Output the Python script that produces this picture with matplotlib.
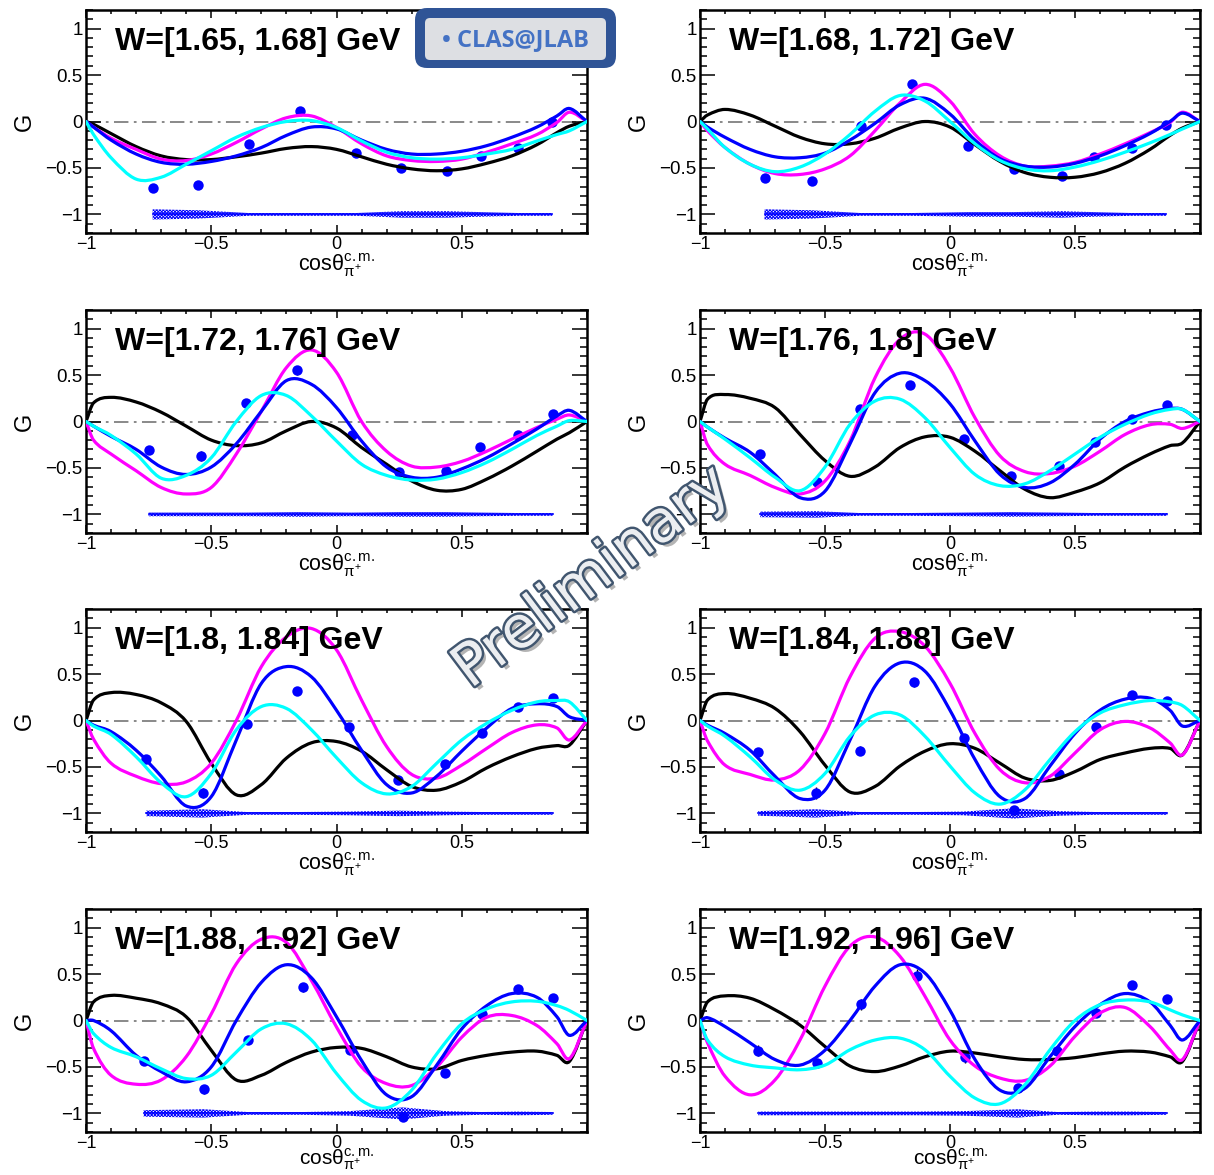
import matplotlib
matplotlib.use("Agg")
import matplotlib.pyplot as plt
import numpy as np
from matplotlib.path import Path
from matplotlib.patches import PathPatch, FancyBboxPatch
from matplotlib.ticker import MultipleLocator, FixedLocator, FixedFormatter
import matplotlib.patheffects as pe

plt.rcParams["font.family"] = ["Liberation Sans", "DejaVu Sans"]
plt.rcParams["mathtext.fontset"] = "custom"
plt.rcParams["mathtext.rm"] = "Liberation Sans"
plt.rcParams["mathtext.it"] = "Liberation Sans:italic"
plt.rcParams["mathtext.bf"] = "Liberation Sans:bold"
plt.rcParams["hatch.linewidth"] = 0.7
plt.rcParams["axes.unicode_minus"] = True

# ---------------------------------------------------------------- data
W_EDGES = [1.65, 1.68, 1.72, 1.76, 1.80, 1.84, 1.88, 1.92, 1.96]

DATA_COS = [
    [-0.734, -0.551, -0.351, -0.147, 0.078, 0.259, 0.442, 0.575, 0.726, 0.861],
    [-0.742, -0.552, -0.358, -0.152, 0.072, 0.255, 0.446, 0.576, 0.726, 0.865],
    [-0.750, -0.542, -0.363, -0.156, 0.061, 0.250, 0.436, 0.574, 0.723, 0.863],
    [-0.759, -0.534, -0.362, -0.161, 0.054, 0.244, 0.434, 0.579, 0.728, 0.869],
    [-0.760, -0.534, -0.359, -0.159, 0.050, 0.247, 0.433, 0.580, 0.726, 0.863],
    [-0.767, -0.538, -0.361, -0.144, 0.054, 0.255, 0.434, 0.583, 0.728, 0.869],
    [-0.770, -0.530, -0.355, -0.133, 0.053, 0.264, 0.433, 0.579, 0.724, 0.863],
    [-0.767, -0.534, -0.358, -0.134, 0.060, 0.272, 0.429, 0.583, 0.728, 0.866],
]
DATA_G = [
    [-0.72, -0.685, -0.237, 0.111, -0.34, -0.505, -0.538, -0.369, -0.283, 0.0],
    [-0.606, -0.645, -0.05, 0.40, -0.265, -0.513, -0.591, -0.387, -0.283, -0.036],
    [-0.305, -0.37, 0.194, 0.552, -0.143, -0.545, -0.538, -0.276, -0.147, 0.086],
    [-0.348, -0.656, 0.133, 0.398, -0.186, -0.59, -0.48, -0.222, 0.029, 0.176],
    [-0.409, -0.78, -0.043, 0.319, -0.075, -0.638, -0.466, -0.136, 0.14, 0.244],
    [-0.34, -0.78, -0.326, 0.409, -0.183, -0.968, -0.573, -0.068, 0.276, 0.211],
    [-0.44, -0.74, -0.214, 0.357, -0.32, -1.04, -0.56, 0.07, 0.34, 0.243],
    [-0.323, -0.459, 0.176, 0.484, -0.394, -0.731, -0.323, 0.086, 0.38, 0.233],
]
DATA_ERR = [
    [0.02, 0.02, 0.02, 0.02, 0.02, 0.02, 0.02, 0.02, 0.02, 0.02],
    [0.02, 0.02, 0.02, 0.02, 0.02, 0.02, 0.02, 0.02, 0.02, 0.02],
    [0.03, 0.05, 0.04, 0.05, 0.03, 0.02, 0.02, 0.02, 0.02, 0.02],
    [0.03, 0.06, 0.03, 0.03, 0.03, 0.03, 0.02, 0.02, 0.02, 0.02],
    [0.03, 0.05, 0.04, 0.04, 0.03, 0.03, 0.02, 0.02, 0.02, 0.02],
    [0.04, 0.06, 0.05, 0.05, 0.04, 0.05, 0.03, 0.02, 0.02, 0.02],
    [0.04, 0.05, 0.04, 0.05, 0.04, 0.04, 0.03, 0.02, 0.02, 0.02],
    [0.06, 0.05, 0.06, 0.07, 0.06, 0.05, 0.03, 0.02, 0.02, 0.02],
]
# systematic uncertainty (half-width of the band drawn at G = -1)
SYS_ERR = [
    [0.055, 0.045, 0.015, 0.015, 0.015, 0.035, 0.035, 0.025, 0.015, 0.015],
    [0.055, 0.045, 0.015, 0.015, 0.025, 0.025, 0.035, 0.025, 0.015, 0.015],
    [0.02, 0.02, 0.02, 0.025, 0.02, 0.025, 0.025, 0.02, 0.015, 0.015],
    [0.03, 0.035, 0.015, 0.015, 0.02, 0.025, 0.02, 0.015, 0.015, 0.015],
    [0.03, 0.045, 0.015, 0.015, 0.02, 0.03, 0.02, 0.015, 0.015, 0.015],
    [0.025, 0.045, 0.015, 0.015, 0.02, 0.055, 0.025, 0.015, 0.015, 0.015],
    [0.035, 0.045, 0.015, 0.015, 0.025, 0.065, 0.025, 0.015, 0.02, 0.015],
    [0.02, 0.02, 0.02, 0.02, 0.025, 0.045, 0.015, 0.02, 0.02, 0.015],
]

# model predictions sampled on a common cos(theta) grid
MODEL_COS = [-1.0, -0.97, -0.9, -0.8, -0.7, -0.6, -0.5, -0.4, -0.3, -0.2, -0.1,
             0.0, 0.1, 0.2, 0.3, 0.4, 0.5, 0.6, 0.7, 0.8, 0.88, 0.93, 1.0]

MODEL_BLACK = [
    [0, -0.03, -0.13, -0.27, -0.37, -0.41, -0.41, -0.38, -0.34, -0.29, -0.27, -0.30, -0.38, -0.46, -0.51, -0.53, -0.51, -0.45, -0.37, -0.25, -0.12, -0.05, 0],
    [0, 0.07, 0.13, 0.07, -0.05, -0.17, -0.24, -0.24, -0.18, -0.07, 0.0, -0.06, -0.25, -0.43, -0.55, -0.60, -0.60, -0.55, -0.45, -0.30, -0.15, -0.07, 0],
    [0, 0.20, 0.26, 0.21, 0.10, -0.05, -0.20, -0.26, -0.23, -0.10, 0.0, -0.07, -0.28, -0.46, -0.64, -0.74, -0.73, -0.62, -0.48, -0.32, -0.19, -0.12, 0],
    [0, 0.24, 0.29, 0.25, 0.15, -0.14, -0.42, -0.59, -0.49, -0.28, -0.165, -0.17, -0.32, -0.53, -0.73, -0.82, -0.76, -0.66, -0.49, -0.35, -0.26, -0.23, 0],
    [0, 0.22, 0.30, 0.28, 0.19, -0.01, -0.46, -0.80, -0.69, -0.405, -0.24, -0.226, -0.33, -0.53, -0.71, -0.75, -0.66, -0.51, -0.39, -0.30, -0.27, -0.265, 0],
    [0, 0.22, 0.29, 0.24, 0.13, -0.12, -0.48, -0.77, -0.71, -0.49, -0.33, -0.25, -0.30, -0.46, -0.62, -0.645, -0.55, -0.42, -0.35, -0.30, -0.30, -0.37, 0],
    [0, 0.20, 0.27, 0.24, 0.18, 0.04, -0.32, -0.64, -0.59, -0.45, -0.34, -0.29, -0.30, -0.39, -0.50, -0.52, -0.43, -0.375, -0.34, -0.33, -0.375, -0.44, 0],
    [0, 0.20, 0.265, 0.24, 0.115, -0.05, -0.28, -0.49, -0.55, -0.49, -0.39, -0.33, -0.35, -0.39, -0.42, -0.42, -0.40, -0.36, -0.33, -0.34, -0.39, -0.44, 0],
]
MODEL_BLUE = [
    [0, -0.06, -0.20, -0.35, -0.44, -0.46, -0.43, -0.37, -0.28, -0.15, -0.06, -0.08, -0.20, -0.30, -0.35, -0.35, -0.32, -0.26, -0.17, -0.06, 0.06, 0.14, 0],
    [0, -0.06, -0.17, -0.30, -0.38, -0.39, -0.34, -0.20, -0.02, 0.18, 0.25, 0.08, -0.20, -0.40, -0.48, -0.49, -0.45, -0.37, -0.26, -0.13, 0.0, 0.09, 0],
    [0, -0.05, -0.16, -0.30, -0.49, -0.57, -0.49, -0.24, 0.11, 0.44, 0.40, 0.15, -0.21, -0.49, -0.60, -0.60, -0.51, -0.39, -0.24, -0.08, 0.06, 0.12, 0],
    [0, -0.06, -0.18, -0.33, -0.57, -0.82, -0.75, -0.24, 0.31, 0.52, 0.44, 0.19, -0.21, -0.57, -0.71, -0.66, -0.46, -0.19, 0.0, 0.10, 0.14, 0.13, 0],
    [0, -0.05, -0.12, -0.32, -0.60, -0.92, -0.82, -0.21, 0.40, 0.58, 0.47, 0.11, -0.32, -0.69, -0.78, -0.60, -0.33, -0.08, 0.13, 0.18, 0.15, 0.04, 0],
    [0, -0.05, -0.14, -0.32, -0.60, -0.84, -0.75, -0.21, 0.37, 0.62, 0.53, 0.11, -0.42, -0.82, -0.84, -0.49, -0.14, 0.11, 0.23, 0.24, 0.11, -0.06, 0],
    [0, 0.0, -0.11, -0.375, -0.55, -0.66, -0.50, 0.0, 0.41, 0.60, 0.46, 0.04, -0.43, -0.80, -0.82, -0.48, -0.09, 0.16, 0.29, 0.25, 0.04, -0.16, 0],
    [0, 0.03, -0.065, -0.24, -0.42, -0.48, -0.32, 0.0, 0.37, 0.60, 0.51, 0.11, -0.42, -0.75, -0.73, -0.39, -0.065, 0.17, 0.29, 0.20, -0.05, -0.21, 0],
]
MODEL_MAGENTA = [
    [0, -0.06, -0.18, -0.30, -0.405, -0.42, -0.35, -0.225, -0.08, 0.04, 0.06, -0.065, -0.24, -0.37, -0.42, -0.43, -0.405, -0.33, -0.24, -0.14, -0.01, 0.10, 0],
    [0, -0.10, -0.28, -0.46, -0.56, -0.57, -0.51, -0.37, -0.10, 0.20, 0.40, 0.22, -0.14, -0.37, -0.48, -0.48, -0.44, -0.35, -0.24, -0.12, -0.01, 0.10, 0],
    [0, -0.20, -0.35, -0.53, -0.71, -0.78, -0.71, -0.35, 0.11, 0.58, 0.77, 0.53, 0.0, -0.32, -0.48, -0.49, -0.43, -0.32, -0.19, -0.065, 0.025, 0.07, 0],
    [0, -0.25, -0.46, -0.58, -0.71, -0.78, -0.64, -0.21, 0.47, 0.885, 0.94, 0.58, 0.04, -0.37, -0.54, -0.56, -0.48, -0.32, -0.14, -0.035, -0.03, -0.075, 0],
    [0, -0.20, -0.46, -0.60, -0.68, -0.66, -0.46, 0.0, 0.58, 0.90, 0.99, 0.76, 0.22, -0.28, -0.58, -0.62, -0.48, -0.30, -0.13, -0.047, -0.08, -0.21, 0],
    [0, -0.22, -0.48, -0.58, -0.64, -0.53, -0.14, 0.47, 0.885, 0.957, 0.80, 0.40, -0.14, -0.53, -0.67, -0.60, -0.35, -0.10, -0.01, -0.08, -0.24, -0.37, 0],
    [0, -0.30, -0.59, -0.686, -0.64, -0.39, 0.07, 0.61, 0.875, 0.84, 0.43, -0.07, -0.50, -0.68, -0.70, -0.50, -0.18, 0.035, 0.054, -0.054, -0.25, -0.41, 0],
    [0, -0.24, -0.60, -0.80, -0.64, -0.21, 0.37, 0.80, 0.90, 0.69, 0.26, -0.21, -0.49, -0.62, -0.645, -0.49, -0.17, 0.08, 0.14, -0.065, -0.315, -0.42, 0],
]
MODEL_CYAN = [
    [0, -0.14, -0.39, -0.62, -0.60, -0.46, -0.315, -0.17, -0.065, 0.0, 0.01, -0.065, -0.21, -0.33, -0.39, -0.405, -0.39, -0.35, -0.30, -0.21, -0.14, -0.10, 0],
    [0, -0.08, -0.28, -0.46, -0.54, -0.49, -0.35, -0.14, 0.11, 0.28, 0.22, 0.0, -0.24, -0.42, -0.51, -0.53, -0.49, -0.42, -0.33, -0.23, -0.14, -0.08, 0],
    [0, -0.05, -0.15, -0.35, -0.61, -0.58, -0.39, 0.0, 0.28, 0.28, 0.06, -0.21, -0.46, -0.58, -0.63, -0.62, -0.55, -0.44, -0.30, -0.15, -0.05, 0.01, 0],
    [0, -0.06, -0.19, -0.39, -0.60, -0.745, -0.49, -0.03, 0.22, 0.24, 0.04, -0.28, -0.57, -0.69, -0.67, -0.53, -0.35, -0.17, -0.03, 0.08, 0.13, 0.13, 0],
    [0, -0.06, -0.15, -0.39, -0.67, -0.82, -0.57, -0.10, 0.15, 0.13, -0.10, -0.40, -0.67, -0.79, -0.71, -0.46, -0.21, -0.03, 0.11, 0.20, 0.215, 0.20, 0],
    [0, -0.06, -0.17, -0.39, -0.64, -0.75, -0.57, -0.17, 0.06, 0.06, -0.17, -0.49, -0.78, -0.90, -0.745, -0.42, -0.12, 0.08, 0.17, 0.215, 0.20, 0.16, 0],
    [0, -0.14, -0.29, -0.39, -0.52, -0.625, -0.59, -0.34, -0.09, -0.035, -0.21, -0.57, -0.86, -0.94, -0.75, -0.36, -0.035, 0.125, 0.20, 0.207, 0.16, 0.107, 0],
    [0, -0.21, -0.39, -0.48, -0.51, -0.53, -0.48, -0.315, -0.21, -0.19, -0.315, -0.60, -0.835, -0.896, -0.69, -0.315, 0.0, 0.17, 0.22, 0.20, 0.115, 0.06, 0],
]

TICK_VALUES = [-1, -0.5, 0, 0.5, 1]
X_TICK_LABELS = ["\u22121", "\u22120.5", "0", "0.5", ""]
Y_TICK_LABELS = ["\u22121", "\u22120.5", "0", "0.5", "1"]


def smooth_curve(xs, ys):
    """Piecewise cubic (Hermite) path through the sampled model values."""
    x = np.asarray(xs, float)
    y = np.asarray(ys, float)
    n = len(x)
    m = np.empty(n)
    m[0] = (y[1] - y[0]) / (x[1] - x[0])
    m[-1] = (y[-1] - y[-2]) / (x[-1] - x[-2])
    m[1:-1] = (y[2:] - y[:-2]) / (x[2:] - x[:-2])
    verts = [(x[0], y[0])]
    codes = [Path.MOVETO]
    for i in range(n - 1):
        h = x[i + 1] - x[i]
        verts += [(x[i] + h / 3, y[i] + m[i] * h / 3),
                  (x[i + 1] - h / 3, y[i + 1] - m[i + 1] * h / 3),
                  (x[i + 1], y[i + 1])]
        codes += [Path.CURVE4] * 3
    return Path(verts, codes)


# ---------------------------------------------------------------- figure
FIG_W, FIG_H = 1214, 1175
fig = plt.figure(figsize=(FIG_W / 100, FIG_H / 100), dpi=100)
fig.patch.set_facecolor("white")

col_left = [86, 700]
col_width = [501, 500]
row_top = [10, 310, 609, 909]
panel_h = 223

models = [("black", MODEL_BLACK), ("#ff00ff", MODEL_MAGENTA),
          ("#0000ff", MODEL_BLUE), ("#00ffff", MODEL_CYAN)]

for i in range(8):
    r, c = divmod(i, 2)
    ax = fig.add_axes([col_left[c] / FIG_W,
                       1 - (row_top[r] + panel_h) / FIG_H,
                       col_width[c] / FIG_W,
                       panel_h / FIG_H])
    ax.set_xlim(-1, 1)
    ax.set_ylim(-1.2, 1.2)

    ax.xaxis.set_major_locator(FixedLocator(TICK_VALUES))
    ax.xaxis.set_major_formatter(FixedFormatter(X_TICK_LABELS))
    ax.yaxis.set_major_locator(FixedLocator(TICK_VALUES))
    ax.yaxis.set_major_formatter(FixedFormatter(Y_TICK_LABELS))
    ax.xaxis.set_minor_locator(MultipleLocator(0.1))
    ax.yaxis.set_minor_locator(MultipleLocator(0.1))
    ax.tick_params(which="both", direction="in", top=True, right=True,
                   width=1.1, labelsize=13.5, pad=2.5)
    ax.tick_params(axis="x", labelsize=13, pad=2)
    ax.tick_params(axis="y", which="major", length=10.5)
    ax.tick_params(axis="y", which="minor", length=5)
    ax.tick_params(axis="x", which="major", length=5.5)
    ax.tick_params(axis="x", which="minor", length=3)
    for sp in ax.spines.values():
        sp.set_linewidth(1.8)

    # zero reference line
    ax.axhline(0, color="#808080", lw=1.3, dashes=(8, 3, 1.5, 3), zorder=1)

    # systematic band
    xs = np.asarray(DATA_COS[i])
    hw = np.asarray(SYS_ERR[i])
    ax.fill_between(xs, -1 - hw, -1 + hw, facecolor="none", edgecolor="#0000ff",
                    hatch="x" * 10, lw=0, zorder=2)
    ax.plot([xs[0], xs[-1]], [-1, -1], color="#0000ff", lw=1.2, zorder=2)

    # measured points
    ax.errorbar(DATA_COS[i], DATA_G[i], yerr=DATA_ERR[i], fmt="o", ms=7.5,
                mfc="#0000ff", mec="#0000ff", mew=0, ecolor="black",
                elinewidth=1.0, capsize=2, capthick=1.0, zorder=3)

    # model curves
    for color, table in models:
        ax.add_patch(PathPatch(smooth_curve(MODEL_COS, table[i]), fill=False,
                               edgecolor=color, lw=2.3, zorder=4,
                               capstyle="round", joinstyle="round"))

    ax.text(0.058, 0.82, f"W=[{W_EDGES[i]:g}, {W_EDGES[i + 1]:g}] GeV",
            transform=ax.transAxes, fontsize=23, fontweight="bold",
            va="baseline", ha="left", zorder=6)
    ax.text(-0.122, 0.5, "G", transform=ax.transAxes, rotation=90,
            ha="center", va="center", fontsize=17)
    xlabel = "cos\u03b8" + r"$^{\rm c.m.}_{\mathrm{\pi}^{+}}$"
    if r < 3:
        ax.text(0.5, -0.145, xlabel, transform=ax.transAxes,
                ha="center", va="center", fontsize=15.5)
    else:
        # bottom row: keep the label inside the canvas
        ax.text(0.5, -0.185, xlabel, transform=ax.transAxes,
                ha="center", va="bottom", fontsize=15)

# ---------------------------------------------------------------- overlay
ov = fig.add_axes([0, 0, 1, 1], zorder=20)
ov.set_xlim(0, FIG_W)
ov.set_ylim(FIG_H, 0)
ov.axis("off")
ov.patch.set_alpha(0)

ov.add_patch(FancyBboxPatch((415, 8), 201, 60,
                            boxstyle="round,pad=0,rounding_size=12",
                            facecolor="#2f5496", edgecolor="none"))
ov.add_patch(FancyBboxPatch((425, 18), 181, 42,
                            boxstyle="round,pad=0,rounding_size=5",
                            facecolor="#dddfe3", edgecolor="none"))
ov.text(516, 40, "\u2022 CLAS@JLAB", ha="center", va="center", fontsize=17,
        fontweight="bold", color="#4472c4", family=["Open Sans", "DejaVu Sans"])

ov.text(592, 577, "Preliminary", rotation=37, rotation_mode="anchor",
        ha="center", va="center", fontsize=42, color="#eceef1",
        family="DejaVu Sans",
        path_effects=[pe.SimplePatchShadow(offset=(3, -3), shadow_rgbFace="#777777",
                                           alpha=0.55),
                      pe.Stroke(linewidth=3.5, foreground="#41566f"),
                      pe.Normal()])

fig.savefig("out.png", dpi=100)
